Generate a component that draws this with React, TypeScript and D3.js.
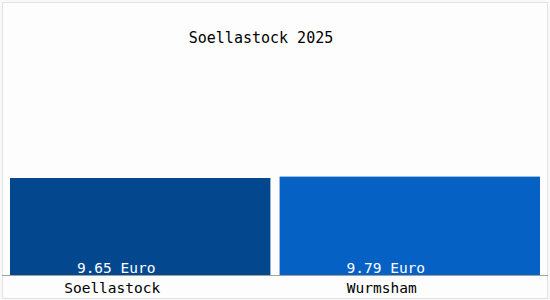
import React from "react";
import * as d3 from "d3";

const categories = ["Soellastock", "Wurmsham"];
const values = [9.65, 9.79];
const valueLabels = ["9.65 Euro", "9.79 Euro"];
const barColors = ["#03488f", "#0561c4"];
const title = "Soellastock 2025";

const W = 550;
const H = 300;
const base = 275;

export default function App() {
  const x = d3.scaleBand<string>().domain(categories).range([10, 540]).paddingInner(0.034).paddingOuter(0);
  const y = d3.scaleLinear().domain([0, 19.9]).range([base, 75]);
  const font = "'DejaVu Sans Mono', monospace";
  return (
    <svg width={W} height={H} style={{ position: "absolute", left: 0, top: 0 }} xmlns="http://www.w3.org/2000/svg">
      <rect x={0} y={0} width={W} height={H} fill="#f9f9f9" />
      <rect x={2.5} y={2.5} width={545} height={296} fill="#fdfdfd" stroke="#e2e2e2" />
      <text x={261} y={43} textAnchor="middle" fontFamily={font} fontSize={15} fill="#000">{title}</text>
      {categories.map((c, i) => (
        <g key={c}>
          <rect x={x(c)} y={y(values[i])} width={x.bandwidth()} height={base - y(values[i])} fill={barColors[i]} />
          <text x={(x(c) as number) + x.bandwidth() / 2 - 24} y={273} textAnchor="middle" fontFamily={font} fontSize={14.5} fill="#fff">{valueLabels[i]}</text>
          <text x={(x(c) as number) + x.bandwidth() / 2 - 28} y={293} textAnchor="middle" fontFamily={font} fontSize={14.5} fill="#000">{c}</text>
        </g>
      ))}
      <line x1={2} x2={548} y1={base + 0.5} y2={base + 0.5} stroke="#a0a0a0" />
    </svg>
  );
}
